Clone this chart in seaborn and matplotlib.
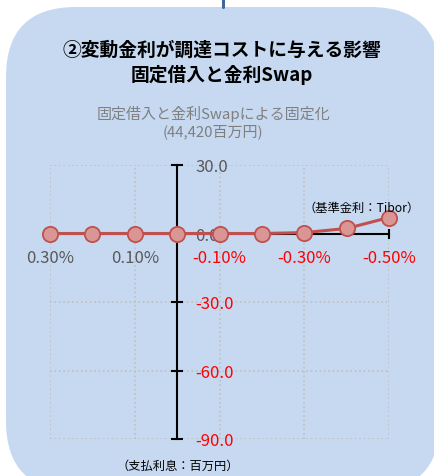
import matplotlib
matplotlib.use("Agg")
import matplotlib.pyplot as plt
from matplotlib.patches import FancyBboxPatch
import seaborn as sns

# data
rates = [0.30, 0.20, 0.10, 0.00, -0.10, -0.20, -0.30, -0.40, -0.50]
cost = [0.0, 0.0, 0.0, 0.0, 0.0, 0.0, 0.4, 2.2, 7.0]
x_ticks = [0.30, 0.10, -0.10, -0.30, -0.50]
y_ticks = [30, 0, -30, -60, -90]

title_lines = ["②変動金利が調達コストに与える影響", "固定借入と金利Swap"]
sub_lines = ["固定借入と金利Swapによる固定化", "(44,420百万円)"]
base_note = "（基準金利：Tibor）"
unit_note = "（支払利息：百万円）"

sns.set_theme(style="white")
plt.rcParams["font.family"] = ["Noto Sans CJK JP", "DejaVu Sans"]

W, H = 434, 477
fig = plt.figure(figsize=(W / 100, H / 100), dpi=100)
fig.patch.set_facecolor("white")

# rounded background panel + connector line at the top
bg = fig.add_axes([0, 0, 1, 1])
bg.set_xlim(0, W)
bg.set_ylim(H, 0)
bg.axis("off")
bg.add_patch(FancyBboxPatch((6, 8), 434, 484, boxstyle="round,pad=0,rounding_size=70",
                            fc="#C6D9F1", ec="none"))
bg.plot([222.5, 222.5], [0, 8], color="#41689C", lw=2.2)

fig.text(222 / W, 1 - 50 / H, title_lines[0], ha="center", va="center",
         fontsize=13.5, fontweight="bold", color="black")
fig.text(222 / W, 1 - 75 / H, title_lines[1], ha="center", va="center",
         fontsize=13.5, fontweight="bold", color="black")
fig.text(213 / W, 1 - 114 / H, sub_lines[0], ha="center", va="center",
         fontsize=10.8, color="#7F7F7F")
fig.text(213 / W, 1 - 132 / H, sub_lines[1], ha="center", va="center",
         fontsize=10.8, color="#7F7F7F")

# main chart
ax = fig.add_axes([50 / W, 1 - 440 / H, 339 / W, 274 / H])
ax.patch.set_alpha(0)
sns.lineplot(x=rates, y=cost, ax=ax, color="#C0504D", lw=2.2, marker="o",
             markersize=11, markerfacecolor="#D99694", markeredgecolor="#C0504D",
             markeredgewidth=1.3, clip_on=False, zorder=4)
ax.set_xlim(0.30, -0.50)
ax.set_ylim(-90, 30)

for s in ["top", "right"]:
    ax.spines[s].set_visible(False)
for s in ["left", "bottom"]:
    ax.spines[s].set_position(("data", 0))
    ax.spines[s].set_color("black")
    ax.spines[s].set_linewidth(1.5)

ax.set_xticks(x_ticks)
ax.set_yticks(y_ticks)
ax.set_xticklabels([f"{v:.2f}%" for v in x_ticks])
ax.set_yticklabels([f"{v:.1f}" for v in y_ticks])
ax.tick_params(axis="x", bottom=True, direction="inout", length=7, width=1.5,
               color="black", pad=8, labelsize=12)
ax.tick_params(axis="y", left=True, direction="inout", length=8, width=1.5,
               color="black", pad=-17, labelsize=12)
for lab, v in zip(ax.get_xticklabels(), x_ticks):
    lab.set_color("#FF0000" if v < 0 else "#595959")
for lab, v in zip(ax.get_yticklabels(), y_ticks):
    lab.set_color("#FF0000" if v < 0 else "#595959")
    lab.set_horizontalalignment("left")

ax.grid(True, linestyle=":", color="#BFBFBF", lw=1.2)
ax.set_axisbelow(True)

fig.text(362 / W, 1 - 208 / H, base_note, ha="center", va="center",
         fontsize=8.8, color="black")
fig.text(178 / W, 1 - 466 / H, unit_note, ha="center", va="center",
         fontsize=8.8, color="black")

fig.savefig("out.png", dpi=100)
